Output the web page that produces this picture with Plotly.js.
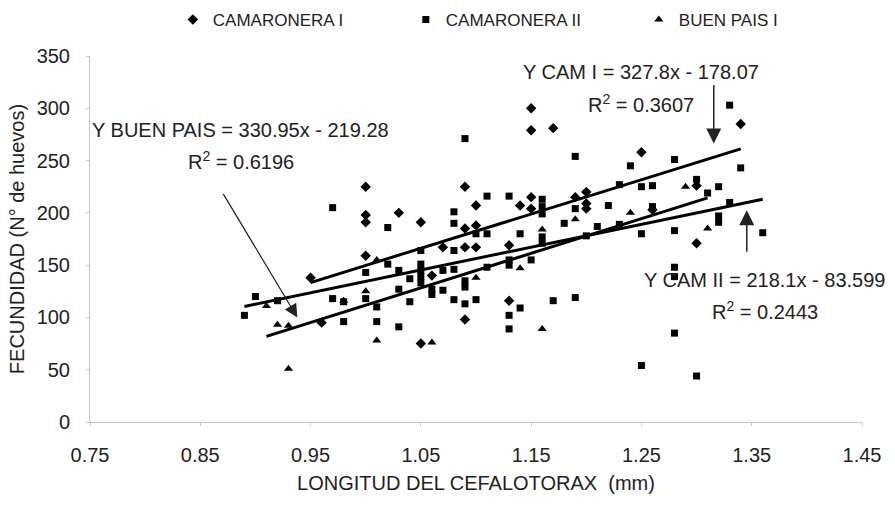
<!DOCTYPE html>
<html>
<head>
<meta charset="utf-8">
<script src="https://cdn.plot.ly/plotly-3.0.1.min.js"></script>
<style>html,body{margin:0;padding:0;background:#fff;}#chart{width:895px;height:505px;}</style>
</head>
<body>
<div id="chart"></div>
<script>
// ---- data ----
const seriesNames = ['CAMARONERA I', 'CAMARONERA II', 'BUEN PAIS I'];

const camI_x = [0.95,0.96,1.00,1.00,1.00,1.00,1.03,1.05,1.05,1.06,1.07,1.09,1.09,1.09,1.09,1.10,1.10,1.10,1.13,1.13,1.14,1.15,1.15,1.15,1.15,1.17,1.19,1.20,1.20,1.20,1.25,1.26,1.30,1.30,1.34];
const camI_y = [138,95,225,198,191,159,200,191,75,140,167,225,185,167,98,207,188,167,169,116,207,300,279,215,204,281,215,220,209,204,258,203,226,171,285];

const camII_x = [0.89,0.90,0.92,0.97,0.97,0.98,0.98,1.00,1.00,1.01,1.01,1.02,1.02,1.03,1.03,1.03,1.04,1.04,1.05,1.05,1.05,1.05,1.05,1.06,1.06,1.07,1.07,1.08,1.08,1.08,1.08,1.08,1.09,1.09,1.09,1.09,1.10,1.10,1.11,1.11,1.11,1.13,1.13,1.13,1.13,1.13,1.14,1.14,1.15,1.16,1.16,1.16,1.16,1.16,1.17,1.18,1.19,1.19,1.19,1.20,1.21,1.22,1.23,1.23,1.24,1.25,1.25,1.25,1.26,1.26,1.28,1.28,1.28,1.28,1.28,1.30,1.30,1.31,1.32,1.32,1.32,1.33,1.33,1.34,1.36];
const camII_y = [102,120,116,205,118,115,96,143,118,110,96,186,151,145,127,91,137,115,164,151,145,139,133,127,122,145,126,201,190,164,146,117,271,135,129,113,180,117,216,180,148,216,155,150,102,89,180,109,155,213,206,199,177,171,116,190,254,204,119,178,187,207,227,189,245,225,180,54,226,206,251,183,148,139,85,232,44,219,225,197,191,210,303,243,181];

const buen_x = [0.91,0.92,0.93,0.93,0.98,1.00,1.01,1.01,1.06,1.10,1.14,1.16,1.16,1.19,1.24,1.29,1.31];
const buen_y = [111,93,92,51,116,125,155,78,76,138,147,184,89,194,200,225,185];

// regression lines (equations printed on the chart) and their drawn x-extent
const fitSlope = [327.8, 218.1, 330.95];
const fitIntercept = [-178.07, -83.599, -219.28];
const fitXStart = [0.95, 0.89, 0.91];
const fitXEnd = [1.34, 1.36, 1.31];

const xTicks = [0.75,0.85,0.95,1.05,1.15,1.25,1.35,1.45];
const yTicks = [0,50,100,150,200,250,300,350];

// ---- traces ----
const FONT = 'Liberation Sans, Arial, sans-serif';
const TXT = '#222';
const FS = 20;
const symbols = ['diamond', 'square', 'triangle-up'];
const sizes = [8, 7, 8];
const xs = [camI_x, camII_x, buen_x];
const ys = [camI_y, camII_y, buen_y];

const traces = [];
for (let i = 0; i < 3; i++) {
  traces.push({
    type: 'scatter', mode: 'markers', name: seriesNames[i],
    x: xs[i], y: ys[i],
    marker: {symbol: symbols[i], size: sizes[i], color: '#000', line: {width: 0}},
    hoverinfo: 'x+y'
  });
}
for (let i = 0; i < 3; i++) {
  const lx = [fitXStart[i], fitXEnd[i]];
  traces.push({
    type: 'scatter', mode: 'lines', showlegend: false,
    x: lx, y: lx.map(v => fitSlope[i] * v + fitIntercept[i]),
    line: {color: '#000', width: 3}, hoverinfo: 'skip'
  });
}

const annFont = {family: FONT, size: FS, color: TXT};
const annotations = [
  {x: 0.8869, y: 278.9, text: 'Y BUEN PAIS = 330.95x - 219.28', showarrow: false, font: annFont},
  {x: 0.8869, y: 250.2, text: 'R<sup>2</sup> = 0.6196', showarrow: false, font: annFont},
  {x: 1.2494, y: 334.3, text: 'Y CAM I = 327.8x - 178.07', showarrow: false, font: annFont},
  {x: 1.2494, y: 304.7, text: 'R<sup>2</sup> = 0.3607', showarrow: false, font: annFont},
  {x: 1.3618, y: 135.5, text: 'Y CAM II = 218.1x - 83.599', showarrow: false, font: annFont},
  {x: 1.3618, y: 106.8, text: 'R<sup>2</sup> = 0.2443', showarrow: false, font: annFont},
  // arrows
  {x: 0.938, y: 100, ax: -75, ay: -125, text: '', showarrow: true, arrowhead: 2, arrowsize: 2.2, arrowwidth: 1.2, arrowcolor: '#222'},
  {x: 1.3156, y: 266.4, ax: 0, ay: -60, text: '', showarrow: true, arrowhead: 2, arrowsize: 2, arrowwidth: 1.5, arrowcolor: '#222'},
  {x: 1.3455, y: 202.4, ax: 0, ay: 43, text: '', showarrow: true, arrowhead: 2, arrowsize: 2, arrowwidth: 1.5, arrowcolor: '#222'}
];

const layout = {
  width: 895, height: 505,
  margin: {l: 90, r: 33, t: 56, b: 83, autoexpand: false},
  paper_bgcolor: '#fff', plot_bgcolor: '#fff',
  font: {family: FONT, size: FS, color: TXT},
  showlegend: true,
  legend: {
    orientation: 'h', x: 0.56, xanchor: 'center', y: 1.1475, yanchor: 'top',
    font: {family: FONT, size: 17, color: TXT},
    entrywidth: 188, entrywidthmode: 'pixels',
    bgcolor: 'rgba(0,0,0,0)'
  },
  xaxis: {
    range: [0.75, 1.45], tickvals: xTicks, ticktext: xTicks.map(v => v.toFixed(2)),
    showgrid: false, zeroline: false, showline: true, linecolor: '#c8c8c8', linewidth: 1,
    ticks: 'outside', ticklen: 3, tickcolor: '#c8c8c8', ticklabelstandoff: 12,
    tickfont: {family: FONT, size: FS, color: TXT},
    title: {text: 'LONGITUD DEL CEFALOTORAX  (mm)', font: {family: FONT, size: FS, color: TXT}, standoff: 10}
  },
  yaxis: {
    range: [0, 350], tickvals: yTicks,
    showgrid: false, zeroline: false, showline: true, linecolor: '#c8c8c8', linewidth: 1,
    ticks: 'outside', ticklen: 3, tickcolor: '#c8c8c8', ticklabelstandoff: 12,
    tickfont: {family: FONT, size: FS, color: TXT},
    title: {text: 'FECUNDIDAD (N° de huevos)', font: {family: FONT, size: FS, color: TXT}, standoff: 6}
  },
  annotations: annotations
};

Plotly.newPlot('chart', traces, layout, {displayModeBar: false, staticPlot: true});
</script>
</body>
</html>
